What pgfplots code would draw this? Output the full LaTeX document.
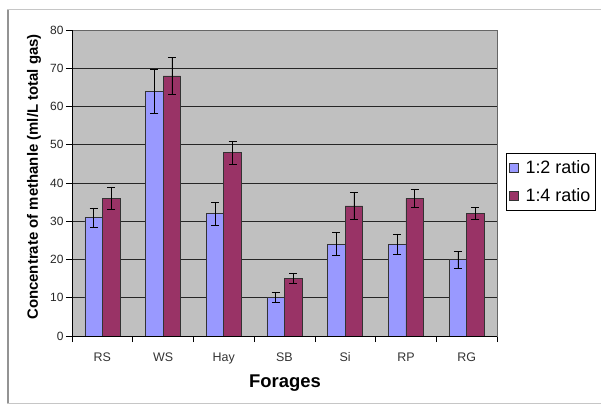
\documentclass[border=0pt]{standalone}
\usepackage{pgfplots}
\pgfplotsset{compat=1.18}
\usepackage{pgfplotstable}
\usepackage{fontspec}
\setmainfont{Liberation Sans}
\definecolor{lav}{HTML}{9999FF}
\definecolor{maroonx}{HTML}{993366}
\definecolor{plotgrey}{HTML}{C0C0C0}

\pgfplotstableread{
x y e
0 31 2.5
1 64 5.8
2 32 3.0
3 10 1.3
4 24 3.0
5 24 2.7
6 20 2.2
}\ratioA
\pgfplotstableread{
x y e
0 36 3.0
1 68 4.9
2 48 3.0
3 15 1.3
4 34 3.5
5 36 2.4
6 32 1.6
}\ratioB

\begin{document}
\begin{tikzpicture}
\useasboundingbox (-72bp,-68bp) rectangle (529bp,336bp);
\draw[gray!45, line width=1bp] (-64bp,-67bp) rectangle (570bp,326bp);
\draw[gray!85, line width=1.3bp] (-64bp,-67bp) -- (-64bp,326bp);
\begin{axis}[
  at={(0,0)}, anchor=south west,
  width=425bp, height=306bp, scale only axis,
  ybar=0pt, bar width=17.5bp,
  xmin=-0.5, xmax=6.5, ymin=0, ymax=80,
  xtick={0,...,6}, xticklabels={RS,WS,Hay,SB,Si,RP,RG},
  minor xtick={-0.5,0.5,...,6.5},
  ytick={0,10,...,80},
  yticklabel={\fontsize{12}{14}\selectfont\pgfmathprintnumber[assume math mode=true]{\tick}},
  xtick pos=bottom, ytick pos=left,
  tick align=outside,
  major tick length=6bp,
  minor tick length=6bp,
  major x tick style={draw=none},
  tick style={black, line width=0.6bp},
  axis background/.style={fill=plotgrey},
  ymajorgrids,
  major grid style={black!85, line width=0.9bp},
  axis line style={draw=gray!80!black, line width=0.8bp},
  yticklabel style={xshift=1bp, text=black!85},
  xticklabel style={font=\fontsize{12.5}{14}\selectfont, yshift=-7bp, text=black!80},
  xlabel={Forages},
  ylabel={Concentrate of methanle (ml/L total gas)},
  xlabel style={at={(axis description cs:0.501,-0.1526)}, anchor=center, font=\bfseries\fontsize{18.5}{20}\selectfont},
  ylabel style={at={(axis description cs:-0.0894,0.52)}, anchor=center, font=\bfseries\fontsize{15}{17}\selectfont},
  legend style={at={(1.0205,0.598)}, anchor=north west, draw=black, line width=0.6bp,
    font=\fontsize{18}{20}\selectfont, row sep=10bp, inner xsep=3bp, inner ysep=5bp},
  legend cell align=left,
  error bars/y dir=both, error bars/y explicit,
  error bars/error mark options={rotate=90, mark size=4bp, line width=0.6bp, black},
  error bars/error bar style={line width=0.6bp, black},
]
\addplot[fill=lav, draw=black!80, line width=0.6bp,
  legend image code/.code={\draw[fill=lav, draw=black!80, line width=0.5bp] (0bp,-4.5bp) rectangle (9bp,4.5bp); \node[inner sep=0pt, draw=none, fill=none] at (13bp,0bp) {};}]
  table[x=x, y=y, y error=e] {\ratioA};
\addplot[fill=maroonx, draw=black!80, line width=0.6bp,
  legend image code/.code={\draw[fill=maroonx, draw=black!80, line width=0.5bp] (0bp,-4.5bp) rectangle (9bp,4.5bp); \node[inner sep=0pt, draw=none, fill=none] at (13bp,0bp) {};}]
  table[x=x, y=y, y error=e] {\ratioB};
\legend{1:2 ratio, 1:4 ratio}
\draw[black, line width=0.8bp] (rel axis cs:0,1) -- (rel axis cs:0,0) -- (rel axis cs:1,0);
\end{axis}
\end{tikzpicture}
\end{document}
